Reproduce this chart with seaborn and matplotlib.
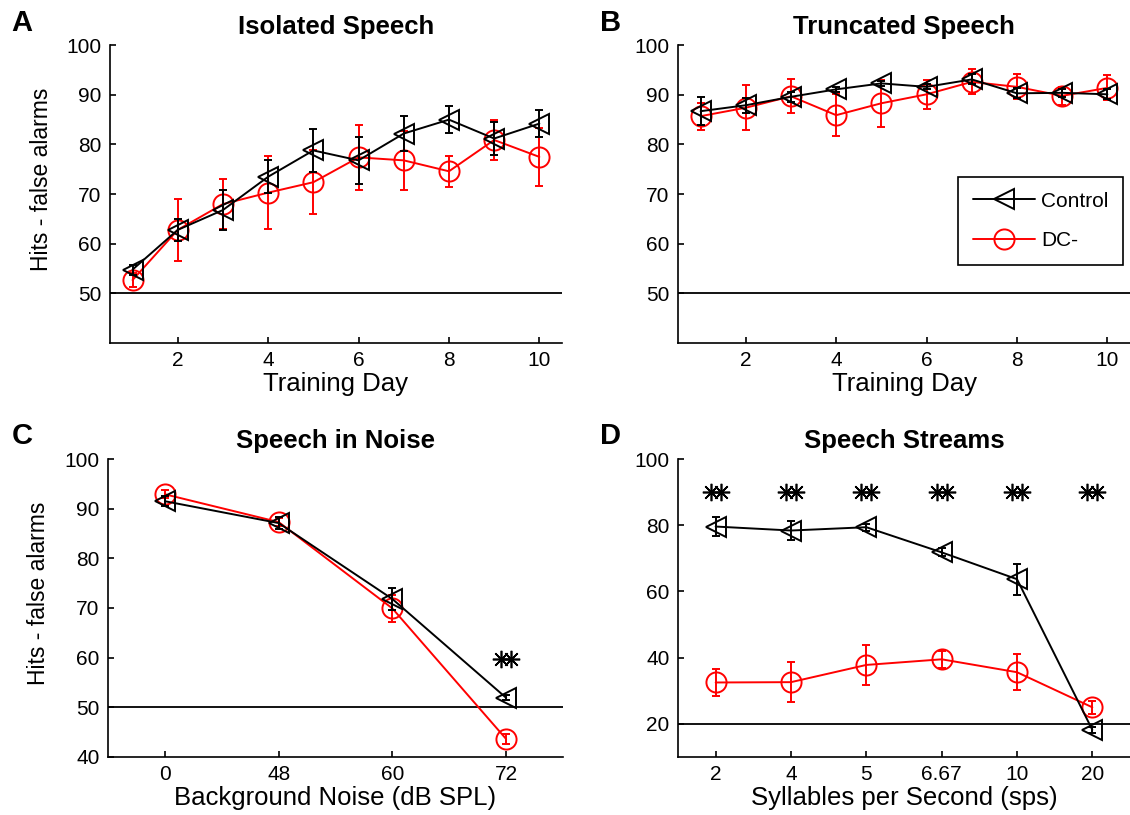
import numpy as np
import matplotlib
matplotlib.use('Agg')
import matplotlib.pyplot as plt
from matplotlib.transforms import offset_copy
import seaborn as sns

# Panel A - isolated speech (training days)
days = [1, 2, 3, 4, 5, 6, 7, 8, 9, 10]
iso_ctrl = [54.8, 62.8, 66.8, 73.5, 78.8, 76.8, 82.2, 85.0, 81.2, 84.2]
iso_ctrl_err = [1.0, 2.2, 4.0, 3.3, 4.4, 4.8, 3.6, 2.7, 3.4, 2.7]
iso_dc = [52.7, 62.8, 68.0, 70.3, 72.4, 77.4, 76.8, 74.6, 80.9, 77.5]
iso_dc_err = [1.5, 6.3, 5.1, 7.3, 6.4, 6.5, 5.9, 3.1, 4.0, 5.8]

# Panel B - truncated speech
trunc_ctrl = [86.7, 87.9, 89.6, 91.1, 92.3, 91.6, 93.1, 90.3, 90.4, 90.1]
trunc_ctrl_err = [2.8, 1.5, 1.0, 0.5, 0.5, 0.5, 1.0, 1.0, 0.8, 1.0]
trunc_dc = [85.7, 87.4, 89.7, 85.9, 88.3, 90.1, 92.6, 91.6, 89.8, 91.4]
trunc_dc_err = [2.7, 4.5, 3.4, 4.2, 4.7, 2.9, 2.5, 2.5, 1.8, 2.5]

# Panel C - speech in noise
noise_levels = ['0', '48', '60', '72']
noise_ctrl = [91.5, 87.1, 71.8, 51.9]
noise_ctrl_err = [1.0, 1.2, 2.3, 0.5]
noise_dc = [92.9, 87.3, 69.9, 43.6]
noise_dc_err = [0.8, 0.8, 2.7, 1.0]
noise_sig = ['72']
noise_sig_y = 59.7

# Panel D - speech streams
rates = ['2', '4', '5', '6.67', '10', '20']
stream_ctrl = [79.6, 78.4, 79.4, 71.8, 63.7, 18.2]
stream_ctrl_err = [2.9, 2.8, 1.0, 1.2, 4.7, 1.0]
stream_dc = [32.5, 32.6, 37.8, 39.5, 35.6, 25.0]
stream_dc_err = [4.2, 6.0, 6.1, 2.5, 5.4, 2.0]
stream_sig = ['2', '4', '5', '6.67', '10', '20']
stream_sig_y = 90

sns.set_theme(style='ticks')
plt.rcParams['font.family'] = ['Liberation Sans', 'DejaVu Sans']
plt.rcParams['text.color'] = 'black'
plt.rcParams['axes.labelcolor'] = 'black'
plt.rcParams['xtick.direction'] = 'in'
plt.rcParams['ytick.direction'] = 'in'
plt.rcParams['axes.linewidth'] = 1.2
plt.rcParams['xtick.major.width'] = 1.2
plt.rcParams['ytick.major.width'] = 1.2
plt.rcParams['xtick.major.size'] = 4
plt.rcParams['ytick.major.size'] = 4

fig = plt.figure(figsize=(11.3, 8.15), dpi=100)
axA = fig.add_axes([0.0973, 0.579, 0.40, 0.3656])
axB = fig.add_axes([0.600, 0.579, 0.40, 0.3656])
axC = fig.add_axes([0.0956, 0.0712, 0.4027, 0.3656])
axD = fig.add_axes([0.600, 0.0712, 0.40, 0.3656])


def draw_group(ax, x, ctrl, ctrl_err, dc, dc_err):
    sns.lineplot(x=x, y=dc, ax=ax, color='red', lw=1.4, marker='o', markersize=14.5,
                 markerfacecolor='none', markeredgecolor='red', markeredgewidth=1.4,
                 label='DC-', zorder=2)
    ax.errorbar(x, dc, yerr=dc_err, fmt='none', ecolor='red', elinewidth=1.4,
                capsize=3, capthick=1.4, zorder=2)
    sns.lineplot(x=x, y=ctrl, ax=ax, color='black', lw=1.4, marker='<', markersize=15,
                 markerfacecolor='none', markeredgecolor='black', markeredgewidth=1.4,
                 label='Control', zorder=3)
    ax.errorbar(x, ctrl, yerr=ctrl_err, fmt='none', ecolor='black', elinewidth=1.4,
                capsize=3, capthick=1.4, zorder=3)


def draw_stars(ax, xs, y):
    for dx in (-3.7, 3.7):
        tr = offset_copy(ax.transData, fig=fig, x=dx, y=0, units='points')
        ax.plot(xs, [y] * len(xs), ls='none', marker=(8, 2, 0), markersize=12.5,
                color='black', mew=1.2, transform=tr, clip_on=False)


draw_group(axA, days, iso_ctrl, iso_ctrl_err, iso_dc, iso_dc_err)
draw_group(axB, days, trunc_ctrl, trunc_ctrl_err, trunc_dc, trunc_dc_err)

xc = np.arange(len(noise_levels))
draw_group(axC, xc, noise_ctrl, noise_ctrl_err, noise_dc, noise_dc_err)
draw_stars(axC, [noise_levels.index(s) for s in noise_sig], noise_sig_y)

xd = np.arange(len(rates))
draw_group(axD, xd, stream_ctrl, stream_ctrl_err, stream_dc, stream_dc_err)
draw_stars(axD, [rates.index(s) for s in stream_sig], stream_sig_y)

# chance lines
for ax, chance in [(axA, 50), (axB, 50), (axC, 50), (axD, 20)]:
    ax.axhline(chance, color='black', lw=1.3, zorder=1)

for ax in (axA, axB):
    ax.set_xlim(0.5, 10.5)
    ax.set_ylim(40, 100)
    ax.set_xticks([2, 4, 6, 8, 10])
    ax.set_yticks([50, 60, 70, 80, 90, 100])
    ax.set_xlabel('Training Day', fontsize=18.5, labelpad=1)

axC.set_xlim(-0.5, 3.5)
axC.set_ylim(40, 100)
axC.set_xticks(xc)
axC.set_xticklabels(noise_levels)
axC.set_yticks([40, 50, 60, 70, 80, 90, 100])
axC.set_xlabel('Background Noise (dB SPL)', fontsize=18.5, labelpad=1)

axD.set_xlim(-0.5, 5.5)
axD.set_ylim(10, 100)
axD.set_xticks(xd)
axD.set_xticklabels(rates)
axD.set_yticks([20, 40, 60, 80, 100])
axD.set_xlabel('Syllables per Second (sps)', fontsize=18.5, labelpad=1)

for ax in (axA, axC):
    ax.set_ylabel('Hits - false alarms', fontsize=16.5)
    ax.yaxis.set_label_coords(-0.127, 0.55)
for ax in (axB, axD):
    ax.set_ylabel('')

titles = ['Isolated Speech', 'Truncated Speech', 'Speech in Noise', 'Speech Streams']
for ax, t in zip((axA, axB, axC, axD), titles):
    ax.set_title(t, fontsize=18.5, fontweight='bold', pad=8)
    ax.tick_params(labelsize=15, colors='black', pad=6)
    sns.despine(ax=ax)
    ax.spines['left'].set_color('black')
    ax.spines['bottom'].set_color('black')

for ax in (axA, axC, axD):
    leg = ax.get_legend()
    if leg is not None:
        leg.remove()

h, l = axB.get_legend_handles_labels()
order = [l.index('Control'), l.index('DC-')]
leg = axB.legend([h[i] for i in order], [l[i] for i in order], loc='lower right',
                 bbox_to_anchor=(0.985, 0.262), fontsize=15, frameon=True,
                 fancybox=False, edgecolor='black', framealpha=1,
                 handlelength=3.0, handletextpad=0.3, borderpad=0.7,
                 labelspacing=1.0, borderaxespad=0)
leg.get_frame().set_linewidth(1.2)

for x, y, s in [(0.010, 0.972, 'A'), (0.531, 0.972, 'B'), (0.010, 0.465, 'C'), (0.531, 0.465, 'D')]:
    fig.text(x, y, s, fontsize=21, fontweight='bold', va='center', ha='left')

fig.savefig('out.png', dpi=100)
